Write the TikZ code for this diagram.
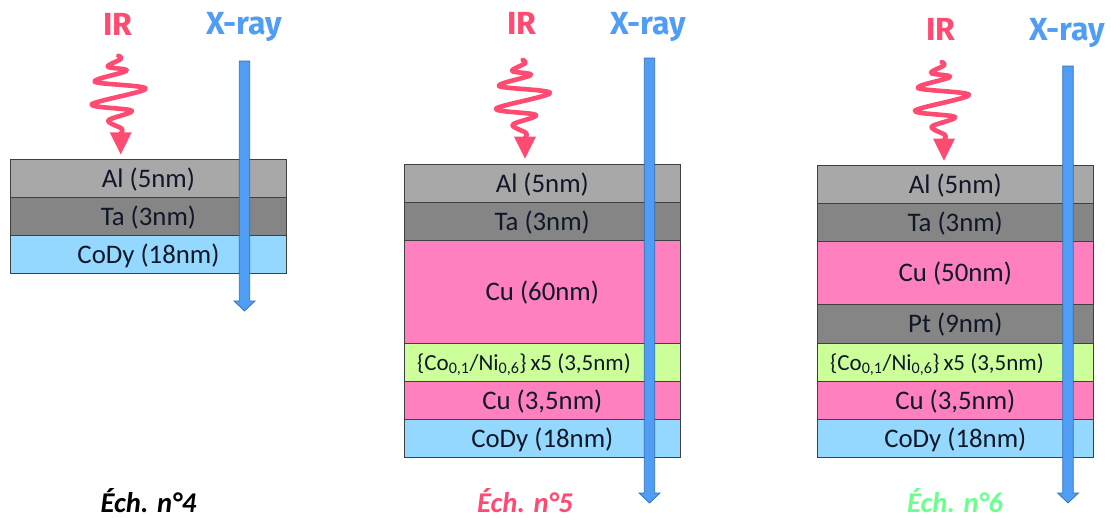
\documentclass[tikz,border=0pt]{standalone}
\usepackage{fontspec}
\setmainfont{Carlito}
\newfontfamily\headfont{Fira Sans}
\definecolor{alc}{HTML}{A8A8A8}
\definecolor{tac}{HTML}{858585}
\definecolor{cuc}{HTML}{FF80BF}
\definecolor{dyc}{HTML}{94D8FF}
\definecolor{coc}{HTML}{CCFF99}
\definecolor{xc}{HTML}{4F9DF5}
\definecolor{xd}{HTML}{2F6FB5}
\definecolor{irc}{HTML}{FF4B72}
\definecolor{grc}{HTML}{6CFF8F}
\definecolor{ink}{HTML}{101828}
\newcommand{\layer}[6]{% name, x, ytop, ybot, colour, text
  \node[layerbox,fill=#5,minimum height={(#4-#3)*1pt}] (#1) at (#2,{(#3+#4)/2}) {\raisebox{-9pt}[0pt][0pt]{#6}};}
\newcommand{\xray}[4]{% name, x, ytop, ybot
  \draw[xarrow] ({#2-5.2},#3) -- ({#2+5.2},#3) -- ({#2+5.2},{#4-10}) -- ({#2+10.5},{#4-10}) -- (#2,#4) -- ({#2-10.5},{#4-10}) -- ({#2-5.2},{#4-10}) -- cycle;
  \coordinate (#1) at (#2,#3);}
\newcommand{\wave}[2]{% x,y of the start (top)
  \begin{scope}[shift={(#1,#2)}]
  \draw[irwave] plot[smooth,tension=0.55] coordinates {(-2.3,0) (0,3.3) (-13,11) (6,15) (-26,26) (25,33) (-29,48.7) (11,55) (-12.3,64.7) (1,73) (0,78)};
  \fill[irc] (-11,76.6) -- (11,76.6) -- (0,98.7) -- cycle;
  \end{scope}}
\tikzset{
  layerbox/.style={draw=black!75!white,line width=0.7pt,minimum width=276.6pt,inner sep=0pt,text=ink,font=\fontsize{26.8}{26.8}\selectfont},
  cotext/.style={inner sep=0pt,text=ink,font=\fontsize{23}{23}\selectfont,anchor=base},
  xarrow/.style={fill=xc,draw=xd,line width=0.7pt,line join=miter},
  irwave/.style={draw=irc,line width=4.6pt,line cap=round,line join=round},
  head/.style={font=\headfont\bfseries\fontsize{32}{32}\selectfont,inner sep=0pt},
  caption/.style={font=\bfseries\itshape\fontsize{28.6}{28.6}\selectfont,inner sep=0pt,anchor=base}
}
\begin{document}
\begin{tikzpicture}[x=1pt,y=-1pt]
\useasboundingbox (0,0) rectangle (1111,517);
% panel 4
\layer{aa}{148.5}{159}{197}{alc}{Al (5nm)}
\layer{ab}{148.5}{197}{235}{tac}{Ta (3nm)}
\layer{ac}{148.5}{235}{273}{dyc}{CoDy (18nm)}
\node[head,text=irc] (ira) at (118,24) {IR};
\node[head,text=xc] (xa) at (244,27) {X-ray};
\wave{120.7}{55.7}
\xray{xla}{244.5}{61}{311}
\node[caption,text=black] (ca) at (148.5,512) {Éch. n°4};
% panel 5
\layer{ba}{542.3}{164}{202}{alc}{Al (5nm)}
\layer{bb}{542.3}{202}{240}{tac}{Ta (3nm)}
\layer{bc}{542.3}{240}{343}{cuc}{Cu (60nm)}
\layer{bd}{542.3}{343}{381}{coc}{}
\layer{be}{542.3}{381}{419}{cuc}{Cu (3,5nm)}
\layer{bf}{542.3}{419}{457}{dyc}{CoDy (18nm)}
\node[cotext] (bt) at (524,370) {\{Co\textsubscript{0,1}/Ni\textsubscript{0,6}\}\,x5 (3,5nm)};
\node[head,text=irc] (irb) at (522,23) {IR};
\node[head,text=xc] (xb) at (648,27) {X-ray};
\wave{525}{60}
\xray{xlb}{649.5}{58}{503}
\node[caption,text=irc] (cb) at (525,512) {Éch. n°5};
% panel 6
\layer{ca}{955.3}{165}{203}{alc}{Al (5nm)}
\layer{cb}{955.3}{203}{241}{tac}{Ta (3nm)}
\layer{cc}{955.3}{241}{304}{cuc}{Cu (50nm)}
\layer{cd}{955.3}{304}{343}{tac}{Pt (9nm)}
\layer{ce}{955.3}{343}{381}{coc}{}
\layer{cf}{955.3}{381}{419}{cuc}{Cu (3,5nm)}
\layer{cg}{955.3}{419}{457}{dyc}{CoDy (18nm)}
\node[cotext] (ct) at (937,370) {\{Co\textsubscript{0,1}/Ni\textsubscript{0,6}\}\,x5 (3,5nm)};
\node[head,text=irc] (irc) at (941,29) {IR};
\node[head,text=xc] (xc) at (1067,33) {X-ray};
\wave{944}{62}
\xray{xlc}{1068}{66}{503}
\node[caption,text=grc] (cc) at (955,512) {Éch. n°6};
\end{tikzpicture}
\end{document}
